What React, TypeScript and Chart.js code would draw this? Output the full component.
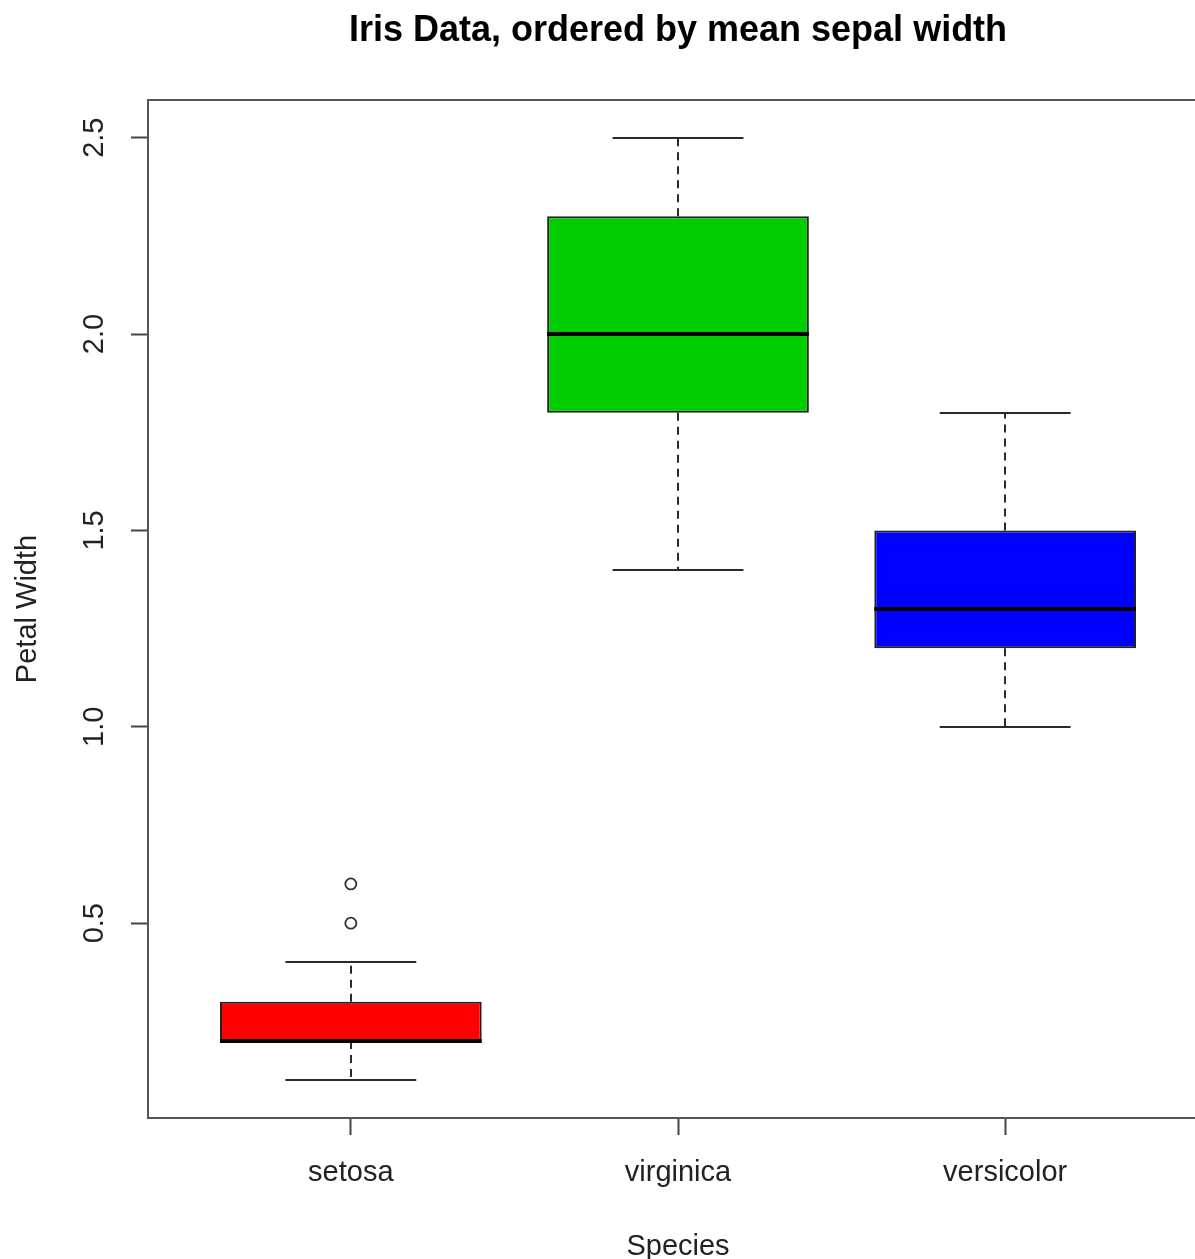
import React, { useEffect, useRef } from "react";
import { Chart, registerables } from "chart.js";

Chart.register(...registerables);

// ---- data ----
const SPECIES = ["setosa", "virginica", "versicolor"];
const POSITIONS = [1, 2, 3];
const WHISKER_LOW = [0.1, 1.4, 1.0];
const Q1 = [0.2, 1.8, 1.2];
const MEDIAN = [0.2, 2.0, 1.3];
const Q3 = [0.3, 2.3, 1.5];
const WHISKER_HIGH = [0.4, 2.5, 1.8];
const OUTLIER_POS = [1, 1];
const OUTLIER_VALUES = [0.5, 0.6];
const BOX_COLORS = ["#FF0000", "#00CD00", "#0000FF"];
const Y_TICKS = [0.5, 1.0, 1.5, 2.0, 2.5];
const Y_RANGE = [0.004, 2.596];
const X_RANGE = [0.38, 3.62];

const TITLE = "Iris Data, ordered by mean sepal width";
const X_TITLE = "Species";
const Y_TITLE = "Petal Width";

const FONT = "'Liberation Sans', Arial, Helvetica, sans-serif";
const LEFT_MARGIN = 148;
const CANVAS_W = 1356;
const CANVAS_H = 1270;

const boxExtras = {
  id: "boxExtras",
  beforeDatasetsDraw(chart: any) {
    const { ctx, chartArea } = chart;
    const xs = chart.scales.x;
    const ys = chart.scales.y;
    ctx.save();
    // plot frame
    ctx.strokeStyle = "#555555";
    ctx.lineWidth = 2;
    ctx.strokeRect(
      chartArea.left,
      chartArea.top,
      chartArea.right - chartArea.left,
      chartArea.bottom - chartArea.top
    );
    // whiskers (dashed)
    ctx.strokeStyle = "#2a2a2a";
    ctx.lineWidth = 2;
    ctx.setLineDash([8, 6]);
    POSITIONS.forEach((p, i) => {
      const x = Math.round(xs.getPixelForValue(p));
      ctx.beginPath();
      ctx.moveTo(x, ys.getPixelForValue(Q3[i]));
      ctx.lineTo(x, ys.getPixelForValue(WHISKER_HIGH[i]));
      ctx.moveTo(x, ys.getPixelForValue(Q1[i]));
      ctx.lineTo(x, ys.getPixelForValue(WHISKER_LOW[i]));
      ctx.stroke();
    });
    // staples
    ctx.setLineDash([]);
    POSITIONS.forEach((p, i) => {
      const x0 = xs.getPixelForValue(p - 0.2);
      const x1 = xs.getPixelForValue(p + 0.2);
      [WHISKER_HIGH[i], WHISKER_LOW[i]].forEach((v) => {
        const y = Math.round(ys.getPixelForValue(v));
        ctx.beginPath();
        ctx.moveTo(x0, y);
        ctx.lineTo(x1, y);
        ctx.stroke();
      });
    });
    ctx.restore();
  },
  afterDatasetsDraw(chart: any) {
    const { ctx } = chart;
    const ys = chart.scales.y;
    const meta = chart.getDatasetMeta(0);
    ctx.save();
    ctx.strokeStyle = "#000000";
    ctx.lineWidth = 4;
    meta.data.forEach((bar: any, i: number) => {
      const half = bar.width / 2;
      const y = ys.getPixelForValue(MEDIAN[i]);
      ctx.beginPath();
      ctx.moveTo(bar.x - half, y);
      ctx.lineTo(bar.x + half, y);
      ctx.stroke();
    });
    ctx.restore();
  },
};

export default function App() {
  const ref = useRef<HTMLCanvasElement | null>(null);

  useEffect(() => {
    if (!ref.current) return;
    const chart = new Chart(ref.current, {
      type: "bar",
      data: {
        datasets: [
          {
            type: "bar",
            data: POSITIONS.map((p, i) => ({ x: p, y: [Q1[i], Q3[i]] })) as any,
            backgroundColor: BOX_COLORS,
            borderColor: "#222222",
            borderWidth: 2,
            borderSkipped: false,
            categoryPercentage: 1,
            barPercentage: 0.8,
          } as any,
          {
            type: "scatter",
            data: OUTLIER_POS.map((p, i) => ({ x: p, y: OUTLIER_VALUES[i] })),
            pointStyle: "circle",
            pointRadius: 5.5,
            pointBackgroundColor: "#ffffff",
            pointBorderColor: "#333333",
            pointBorderWidth: 1.8,
          } as any,
        ],
      },
      options: {
        responsive: false,
        animation: false,
        layout: { padding: 0 },
        plugins: {
          legend: { display: false },
          tooltip: { enabled: false },
          title: {
            display: true,
            text: TITLE,
            color: "#000000",
            font: { family: FONT, size: 36, weight: "bold", lineHeight: 1.2 },
            padding: { top: 9, bottom: 47.8 },
          },
        },
        scales: {
          x: {
            type: "linear",
            position: "bottom",
            offset: false,
            min: X_RANGE[0],
            max: X_RANGE[1],
            afterBuildTicks: (scale: any) => {
              scale.ticks = POSITIONS.map((v) => ({ value: v }));
            },
            afterFit: (scale: any) => {
              scale.height = CANVAS_H - 1118;
            },
            grid: {
              offset: false,
              drawOnChartArea: false,
              drawTicks: true,
              tickLength: 17,
              tickWidth: 2,
              tickColor: "#444444",
            },
            border: { display: false },
            ticks: {
              padding: 20.6,
              color: "#222222",
              font: { family: FONT, size: 29, lineHeight: 1.2 },
              maxRotation: 0,
              minRotation: 0,
              autoSkip: false,
              callback: (v: any) => SPECIES[POSITIONS.indexOf(Number(v))] ?? "",
            },
            title: {
              display: true,
              text: X_TITLE,
              color: "#222222",
              font: { family: FONT, size: 29, lineHeight: 1.2 },
              padding: { top: 0, bottom: 5.6 },
            },
          },
          y: {
            type: "linear",
            position: "left",
            min: Y_RANGE[0],
            max: Y_RANGE[1],
            afterBuildTicks: (scale: any) => {
              scale.ticks = Y_TICKS.map((v) => ({ value: v }));
            },
            afterFit: (scale: any) => {
              scale.width = LEFT_MARGIN;
            },
            grid: {
              drawOnChartArea: false,
              drawTicks: true,
              tickLength: 17,
              tickWidth: 2,
              tickColor: "#444444",
            },
            border: { display: false },
            ticks: {
              padding: 15.8,
              color: "#222222",
              font: { family: FONT, size: 29, lineHeight: 1.2 },
              minRotation: 90,
              maxRotation: 90,
              crossAlign: "center",
              autoSkip: false,
              callback: (v: any) => Number(v).toFixed(1),
            },
            title: {
              display: true,
              text: Y_TITLE,
              color: "#222222",
              font: { family: FONT, size: 29, lineHeight: 1.2 },
              padding: { top: 10.6, bottom: 0 },
            },
          },
          yRight: {
            type: "linear",
            position: "right",
            display: true,
            min: Y_RANGE[0],
            max: Y_RANGE[1],
            afterFit: (scale: any) => {
              scale.width = CANVAS_W - 1208;
            },
            grid: { display: false, drawTicks: false },
            border: { display: false },
            ticks: { display: false },
          },
        },
      } as any,
      plugins: [boxExtras],
    });
    return () => chart.destroy();
  }, []);

  return (
    <div
      style={{
        position: "absolute",
        left: 0,
        top: 0,
        width: 1195,
        height: 1259,
        overflow: "hidden",
        background: "#ffffff",
      }}
    >
      <canvas
        ref={ref}
        width={CANVAS_W}
        height={CANVAS_H}
        style={{ display: "block", width: CANVAS_W, height: CANVAS_H }}
      />
    </div>
  );
}
